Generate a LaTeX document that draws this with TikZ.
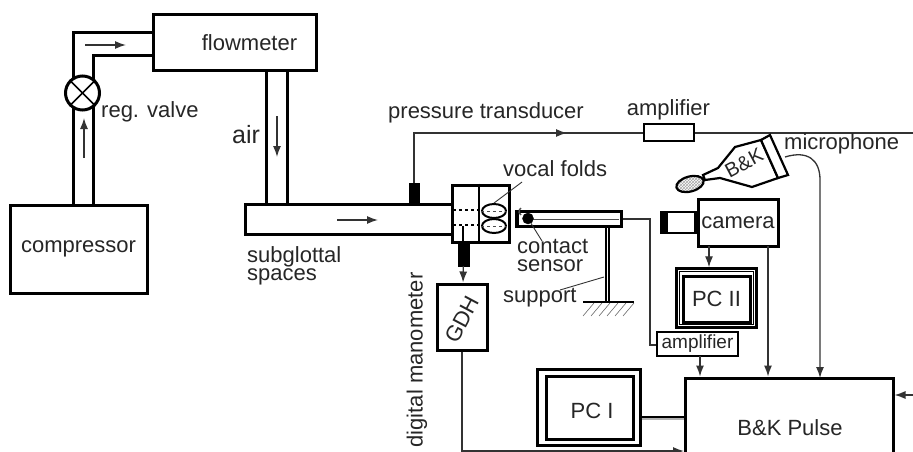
\documentclass[tikz,border=0pt]{standalone}
\usepackage{fontspec}
\setmainfont{Liberation Sans}
\usetikzlibrary{arrows,arrows.meta,shapes.geometric,patterns}
\tikzset{
  lbl/.style={inner sep=0pt, text=black!85, font=\fontsize{22}{18}\selectfont},
  box/.style={draw, line width=3pt, rectangle, fill=white, lbl},
  wall/.style={line width=3pt},
  wire/.style={line width=1.3pt, black!80},
  lead/.style={line width=0.9pt, black!80},
}
\begin{document}
\begin{tikzpicture}[x=1pt,y=-1pt,>={Latex[length=11pt,width=8pt]}]
\useasboundingbox (0,0) rectangle (913,452);
% compressor and valve
\node[box, minimum width=137, minimum height=88] at (78.5,249) (comp) {compressor};
\node[box, minimum width=163, minimum height=56] at (235,43) (flow) {};
\node[lbl] at (249.5,43) (flowtxt) {flowmeter};
\coordinate (c1) at (73,205);
\coordinate (c2) at (93,205);
\coordinate (c3) at (73,33);
\coordinate (c4) at (93,56);
\coordinate (f1) at (153,33);
\coordinate (f2) at (153,56);
\draw[wall] (c1) -- (c3) -- (f1);
\draw[wall] (c2) -- (c4) -- (f2);
\node[draw, circle, line width=3pt, fill=white, minimum size=34, inner sep=0pt] at (82.5,93) (valve) {};
\draw[line width=1.6pt] (valve.45) -- (valve.225);
\draw[line width=1.6pt] (valve.135) -- (valve.315);
\node[lbl, anchor=west] at (101,112) {reg. valve};
\coordinate (a1) at (85,45);
\coordinate (a2) at (126,45);
\coordinate (a3) at (84,158);
\coordinate (a4) at (84,118);
\path[->, wire] (a1) edge (a2);
\path[->, wire] (a3) edge (a4);
% air pipe
\node[minimum width=206, minimum height=29, inner sep=0pt] at (349,219.5) (sub) {};
\coordinate (p1) at (266,71);
\coordinate (p2) at (287,71);
\coordinate (p3) at (266,205);
\coordinate (p4) at (287,205);
\draw[wall] (p1) -- (p3);
\draw[wall] (p2) -- (p4);
\coordinate (a5) at (277,116);
\coordinate (a6) at (277,157);
\path[->, wire] (a5) edge (a6);
\node[lbl, font=\fontsize{25}{25}\selectfont] at (246,135) {air};
\draw[wall] (sub.north east) -- (sub.north west) -- (sub.south west) -- (sub.south east);
\coordinate (a7) at (337,220);
\coordinate (a8) at (378,220);
\path[->, wire] (a7) edge (a8);
\node[lbl, anchor=west, align=left] at (247,266) {subglottal\\spaces};
% vocal folds
\node[box, minimum width=57, minimum height=57] at (480.5,213.5) (fold) {};
\draw[line width=2.4pt] (fold.north -| 479,0) -- (fold.south -| 479,0);
\draw[line width=1.2pt, dashed] (453,210) -- (479,210);
\draw[line width=1.2pt, dashed] (453,225) -- (479,225);
\draw[line width=2.4pt] (463,226) -- (463,242);
\node[draw, ellipse, line width=2pt, fill=white, minimum width=24, minimum height=14, inner sep=0pt] at (494,211) (fold1) {};
\node[draw, ellipse, line width=2pt, fill=white, minimum width=24, minimum height=14, inner sep=0pt] at (494,226) (fold2) {};
\draw[line width=0.9pt, dashed, black!70] (fold1.west) -- (fold1.east);
\draw[line width=0.9pt, dashed, black!70] (fold2.west) -- (fold2.east);
\node[lbl, anchor=west] at (503,169) (foldtxt) {vocal folds};
\coordinate (l1) at (522,182);
\draw[lead] (l1) -- (fold1.north);
% pressure line
\node[draw, fill=black, minimum width=10, minimum height=21, inner sep=0pt] at (414,193.5) (trans) {};
\coordinate (t1) at (414,133);
\coordinate (t2) at (913,133);
\draw[wire] (trans.north) -- (t1) -- (t2);
\draw[->, wire] (t1) -- (567,133);
\node[lbl, anchor=west] at (388,113) {pressure transducer};
\node[box, line width=2.4pt, minimum width=50, minimum height=17] at (669,132.5) (amp1) {};
\node[lbl] at (668.5,110) {amplifier};
% contact sensor
\node[box, minimum width=105, minimum height=15] at (568.5,219) (tube) {};
\draw[line width=1pt, black!70] (533,219) -- (619,219);
\node[draw, fill=black, circle, minimum size=11, inner sep=0pt] at (528,218.5) (head) {};
\draw[line width=2.5pt] (518,212) -- (518,226);
\draw[line width=1.5pt, black!70] (521,215) arc (120:240:4);
\node[lbl, anchor=west, align=left] at (517,255) (senstxt) {contact\\sensor};
\coordinate (l2) at (542,241);
\draw[lead] (head) -- (l2);
% support
\coordinate (s1) at (607.5,302);
\coordinate (s2) at (583,302);
\coordinate (s3) at (634,302);
\draw[line width=1.2pt, double, double distance=1.8pt] (tube.south -| s1) -- (s1);
\draw[line width=2.4pt] (s2) -- (s3);
\foreach \x in {583,591,...,623} {
  \draw[line width=0.6pt, black!60] (\x,316) -- (\x+11,303);
}
\node[lbl, anchor=west] at (503,298) (supptxt) {support};
\coordinate (l3) at (604,277);
\draw[lead] (560,290) -- (l3);
% manometer
\node[draw, fill=black, minimum width=11, minimum height=22, inner sep=0pt] at (463.5,255) (mano) {};
\node[box, minimum width=50, minimum height=66] at (462.5,317) (gdh) {};
\node[lbl, rotate=62] at (462,319) {GDH};
\path[->, wire] (mano) edge (gdh);
\node[lbl, rotate=90] at (417,360) {digital manometer};
% pulse analyser
\node[box, minimum width=208, minimum height=100] at (789,428) (pulse) {};
\node[lbl] at (790,428) {B\&K Pulse};
\coordinate (g1) at (462,451);
\coordinate (g2) at (684,451);
\draw[->, wire] (gdh.south -| g1) -- (g1) -- (g2);
\coordinate (r1) at (913,395);
\path[->, wire] (r1) edge (pulse.east |- r1);
% computers
\node[box, line width=2.2pt, minimum width=103, minimum height=76] at (589,407.5) (pc1) {};
\node[box, minimum width=87, minimum height=63] at (589.5,408) (pc1in) {};
\node[lbl] at (592,411) {PC I};
\draw[wire, black] (pc1.east |- 0,417) -- (pulse.west |- 0,417);
\draw[line width=1.5pt, black!30] (pc1.east |- 0,419) -- (pulse.west |- 0,419);
\node[box, line width=2.4pt, minimum width=80, minimum height=59] at (716.5,298) (pc2) {};
\node[draw, line width=1pt, minimum width=74, minimum height=53, inner sep=0pt] at (716.5,298) (pc2mid) {};
\node[box, minimum width=67, minimum height=46] at (716.5,299) (pc2in) {PC II};
% camera
\node[box, minimum width=80, minimum height=47] at (738,222.5) (cam) {camera};
\node[box, line width=2.4pt, minimum width=34, minimum height=21, anchor=east] at (cam.west) (lens) {};
\node[draw, fill=black, minimum width=7, minimum height=21, inner sep=0pt, anchor=west] at (lens.west) (lensb) {};
\coordinate (k1) at (709,246);
\path[->, wire] (k1) edge (k1 |- pc2.north);
\coordinate (k2) at (768,246);
\path[->, wire] (k2) edge (k2 |- pulse.north);
% amplifier
\node[box, line width=2.4pt, minimum width=81, minimum height=24, font=\fontsize{19}{19}\selectfont] at (697.5,344) (amp2) {amplifier};
\coordinate (w1) at (650,219);
\coordinate (w2) at (650,345);
\draw[wire] (tube.east |- w1) -- (w1) -- (w2) -- (amp2.west |- w2);
\coordinate (k3) at (700,356);
\path[->, wire] (k3) edge (k3 |- pulse.north);
% microphone
\draw[line width=2.2pt, fill=white] (761,140) -- (735,147) -- (718,168) -- (703,175) -- (705,180) -- (720,178) -- (752,187) -- (778,178) -- cycle;
\draw[line width=2.2pt, fill=white] (761,140) -- (770,135) -- (788,175) -- (778,178) -- cycle;
\node[draw, ellipse, line width=2.2pt, rotate=15, minimum width=28, minimum height=15, inner sep=0pt, pattern=crosshatch, pattern color=black!35] at (690,184) (mhead) {};
\node[lbl, rotate=28, font=\fontsize{20}{20}\selectfont] at (744,163) (mictxt) {B\&K};
\node[lbl, anchor=west] at (784,144) {microphone};
\coordinate (m1) at (785,157);
\coordinate (m2) at (820,378);
\draw[->, wire] (m1) .. controls (808,150) and (820,160) .. (820,180) -- (m2);
\end{tikzpicture}
\end{document}
